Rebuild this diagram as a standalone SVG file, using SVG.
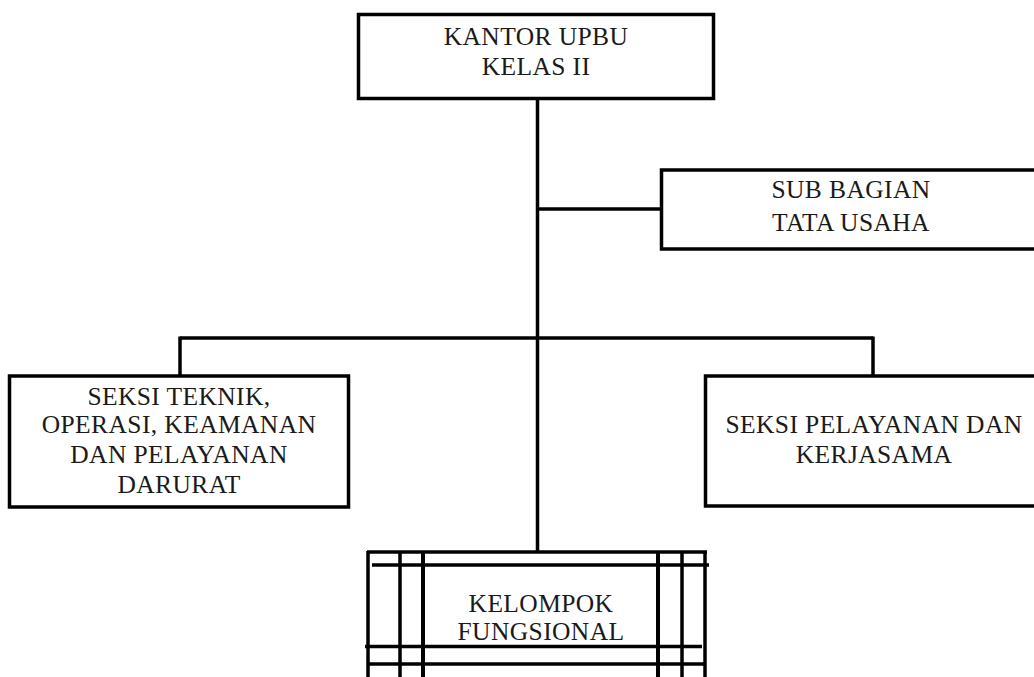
<svg xmlns="http://www.w3.org/2000/svg" width="1034" height="677" viewBox="0 0 1034 677">
<style>
.box{fill:#fff;stroke:#000;stroke-width:3.5}
.ln{stroke:#000;stroke-width:3.5;fill:none}
.t{font-family:"Liberation Serif","Times New Roman",serif;font-size:25.5px;letter-spacing:0.4px;fill:#1a1a1a;text-anchor:middle}
</style>
<rect width="1034" height="677" fill="#fff"/>
<g id="connectors" class="ln">
<line x1="537.5" y1="98" x2="537.5" y2="551"/>
<line x1="537.5" y1="209" x2="661" y2="209"/>
<line x1="180" y1="338" x2="873" y2="338"/>
<line x1="180" y1="336.5" x2="180" y2="376"/>
<line x1="873" y1="336.5" x2="873" y2="376"/>
</g>
<g id="kantor">
<rect class="box" x="358.5" y="14.5" width="355" height="84"/>
<text class="t" x="536" y="45">KANTOR UPBU</text>
<text class="t" x="536" y="75">KELAS II</text>
</g>
<g id="subbagian">
<rect class="box" x="661.5" y="170" width="380" height="79"/>
<text class="t" x="851" y="198">SUB BAGIAN</text>
<text class="t" x="851" y="231">TATA USAHA</text>
</g>
<g id="seksi-teknik">
<rect class="box" x="9.5" y="376" width="339" height="131"/>
<text class="t" x="179" y="405">SEKSI TEKNIK,</text>
<text class="t" x="179" y="433">OPERASI, KEAMANAN</text>
<text class="t" x="179" y="463">DAN PELAYANAN</text>
<text class="t" x="179" y="493">DARURAT</text>
</g>
<g id="seksi-pelayanan">
<rect class="box" x="705.5" y="376" width="340" height="130"/>
<text class="t" x="874" y="433">SEKSI PELAYANAN DAN</text>
<text class="t" x="874" y="463">KERJASAMA</text>
</g>
<g id="kelompok">
<g class="ln">
<line x1="368" y1="551" x2="368" y2="680"/>
<line x1="400" y1="551" x2="400" y2="680"/>
<line x1="423" y1="551" x2="423" y2="680" stroke-width="4"/>
<line x1="658" y1="551" x2="658" y2="680" stroke-width="4"/>
<line x1="682" y1="551" x2="682" y2="680"/>
<line x1="705" y1="551" x2="705" y2="680"/>
<line x1="367" y1="552" x2="707" y2="552"/>
<line x1="372" y1="565" x2="709" y2="565"/>
<line x1="365" y1="646.5" x2="702" y2="646.5"/>
<line x1="367" y1="664" x2="706" y2="664"/>
</g>
<text class="t" x="541" y="612">KELOMPOK</text>
<text class="t" x="541" y="640">FUNGSIONAL</text>
</g>
</svg>
